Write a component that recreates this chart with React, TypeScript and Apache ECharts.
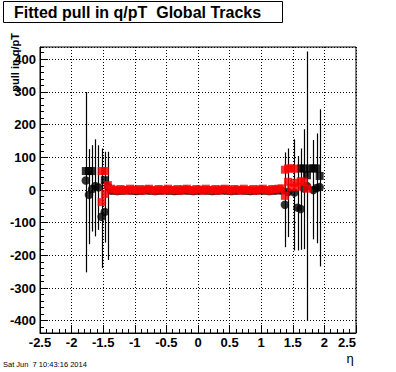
import React, { useEffect, useRef } from "react";
import * as echarts from "echarts";

// ---- data ----
// black circles with error bars (forward clusters)
const pullEta = [-1.775, -1.725, -1.675, -1.625, -1.575, -1.525, -1.475, -1.425,
  1.375, 1.425, 1.525, 1.575, 1.625, 1.675, 1.725, 1.825, 1.875, 1.925];
const pullVal = [29, -15, 3, 12, 8, -82, -67, 10,
  -45, -6, -8, -54, -58, 5, 12, 0, 6, 9];
const pullLo = [-252, -166, -127, -142, -122, -239, -161, -214,
  -175, -144, -185, -185, -183, -181, -400, -151, -163, -234];
const pullHi = [300, 125, 137, 155, 137, 127, 117, 117,
  115, 127, 155, 104, 127, 186, 424, 153, 173, 247];

// central bins (|eta| < 1.4)
const bandEta = [-1.375, -1.325, -1.275, -1.225, -1.175, -1.125, -1.075, -1.025, -0.975, -0.925,
  -0.875, -0.825, -0.775, -0.725, -0.675, -0.625, -0.575, -0.525, -0.475, -0.425,
  -0.375, -0.325, -0.275, -0.225, -0.175, -0.125, -0.075, -0.025, 0.025, 0.075,
  0.125, 0.175, 0.225, 0.275, 0.325, 0.375, 0.425, 0.475, 0.525, 0.575,
  0.625, 0.675, 0.725, 0.775, 0.825, 0.875, 0.925, 0.975, 1.025, 1.075,
  1.125, 1.175, 1.225, 1.275, 1.325];
const bandBlack = [-2, -2, -3, -2, -2, -1, -2, -2, -3, -2,
  -2, -1, -2, -2, -3, -2, -2, -1, -2, -2,
  -3, -2, -2, -1, -2, -2, -3, -2, -2, -1,
  -2, -2, -3, -2, -2, -1, -2, -2, -3, -2,
  -2, -1, -2, -2, -3, -2, -2, -1, -2, -2,
  -3, -2, -2, -1, -2];
const bandRed = [4, 1, -2, 3, 0, -2, 4, 1, -1, 3,
  -2, 2, 4, 0, -2, 3, 1, -2, 4, 0,
  -1, 3, -2, 2, 4, 0, -2, 3, 1, -2,
  4, 0, -1, 3, -2, 2, 4, 0, -2, 3,
  1, -2, 4, 0, -1, 3, -2, 2, 4, 0,
  -2, 3, 1, 4, 5];

// black squares
const sqEta = [-1.775, -1.725, -1.675, -1.475, 1.625, 1.675, 1.725, 1.775, 1.825, 1.875, 1.925];
const sqVal = [58, 58, 58, 30, 66, 66, 45, 66, 66, 66, 43];

// red squares in the forward clusters
const redEta = [-1.525, -1.475, -1.525, -1.475, -1.425,
  1.375, 1.425, 1.475, 1.525, 1.375, 1.425, 1.475, 1.525, 1.575, 1.625, 1.675, 1.725];
const redVal = [58, 58, -37, -12, 15,
  62, 66, 66, 65, -18, 25, 8, 22, 10, 27, 24, 4];

const FONT = '"Liberation Sans", Arial, Helvetica, sans-serif';

export default function App() {
  const ref = useRef<HTMLDivElement>(null);
  useEffect(() => {
    if (!ref.current) return;
    const chart = echarts.init(ref.current, null, { renderer: "svg" });

    const errData = pullEta.map((e, i) => [e, pullLo[i], pullHi[i]]);
    const circData = pullEta.map((e, i) => [e, pullVal[i]]).concat(bandEta.map((e, i) => [e, bandBlack[i]]));
    const sqData = sqEta.map((e, i) => [e, sqVal[i]]);
    const redData = bandEta.map((e, i) => [e, bandRed[i]]).concat(redEta.map((e, i) => [e, redVal[i]]));

    const option: any = {
      animation: false,
      backgroundColor: "#fff",
      grid: { left: 40, top: 47, right: 40, bottom: 39, show: true, borderColor: "#000", borderWidth: 1, backgroundColor: "transparent" },
      xAxis: [{
        type: "value", min: -2.5, max: 2.5, interval: 0.5,
        axisLine: { show: true, onZero: false, lineStyle: { color: "#000", width: 1 } },
        axisTick: { show: true, inside: true, length: 8, lineStyle: { color: "#000", width: 1 } },
        minorTick: { show: true, splitNumber: 5, length: 4, lineStyle: { color: "#000", width: 1 } },
        splitLine: { show: true, lineStyle: { color: "#000", width: 1, type: [1, 2] } },
        axisLabel: { color: "#000", fontFamily: FONT, fontWeight: "bold", fontSize: 13, margin: 3, alignMaxLabel: "right" },
      }],
      yAxis: [{
        type: "value", min: -437.5, max: 437.5, minInterval: 100, maxInterval: 100,
        axisLine: { show: true, onZero: false, lineStyle: { color: "#000", width: 1 } },
        axisTick: { show: true, inside: true, length: 8, lineStyle: { color: "#000", width: 1 } },
        splitLine: { show: true, lineStyle: { color: "#000", width: 1, type: [1, 2] } },
        axisLabel: { color: "#000", fontFamily: FONT, fontWeight: "bold", fontSize: 13, margin: 4, showMinLabel: false, showMaxLabel: false },
      }, {
        type: "value", position: "left", min: -437.5, max: 437.5, minInterval: 20, maxInterval: 20,
        axisLine: { show: false, onZero: false },
        axisTick: { show: true, inside: true, length: 4, lineStyle: { color: "#000", width: 1 } },
        splitLine: { show: false },
        axisLabel: { show: false },
      }],
      series: [
        {
          type: "custom", xAxisIndex: 0, yAxisIndex: 0, data: errData, z: 2,
          renderItem: (params: any, api: any) => {
            const a = api.coord([api.value(0), api.value(1)]);
            const b = api.coord([api.value(0), api.value(2)]);
            const x = Math.round(a[0]) + 0.5;
            return { type: "line", shape: { x1: x, y1: a[1], x2: x, y2: b[1] }, style: { stroke: "#000", lineWidth: 1.2 } };
          },
        },
        { type: "scatter", data: circData, symbol: "circle", symbolSize: 8.5, itemStyle: { color: "#000" }, z: 3 },
        { type: "scatter", data: sqData, symbol: "rect", symbolSize: 8, itemStyle: { color: "#000" }, z: 4 },
        { type: "scatter", data: redData, symbol: "rect", symbolSize: 8, itemStyle: { color: "#ff0000" }, z: 5 },
      ],
      graphic: [
        { type: "rect", shape: { x: 3.5, y: 1.5, width: 279, height: 21 }, style: { fill: "#fff", stroke: "#000", lineWidth: 1 } },
        { type: "text", x: 14, y: 12.5, style: { text: "Fitted pull in q/pT  Global Tracks", fontFamily: FONT, fontWeight: "bold", fontSize: 16, fill: "#000", align: "left", verticalAlign: "middle" } },
        { type: "text", x: 15, y: 33, rotation: Math.PI / 2, style: { text: "pull in q/pT", fontFamily: FONT, fontWeight: "bold", fontSize: 11, fill: "#000", align: "right", verticalAlign: "middle" } },
        { type: "text", x: 350, y: 358, style: { text: "η", fontFamily: FONT, fontSize: 13, fill: "#000", align: "center", verticalAlign: "middle" } },
        { type: "text", x: 3, y: 364, style: { text: "Sat Jun  7 10:43:16 2014", fontFamily: FONT, fontSize: 7.5, fill: "#000", align: "left", verticalAlign: "middle" } },
      ],
    };
    chart.setOption(option);
    return () => chart.dispose();
  }, []);
  return <div ref={ref} style={{ position: "absolute", left: 0, top: 0, width: 396, height: 372, background: "#fff" }} />;
}
